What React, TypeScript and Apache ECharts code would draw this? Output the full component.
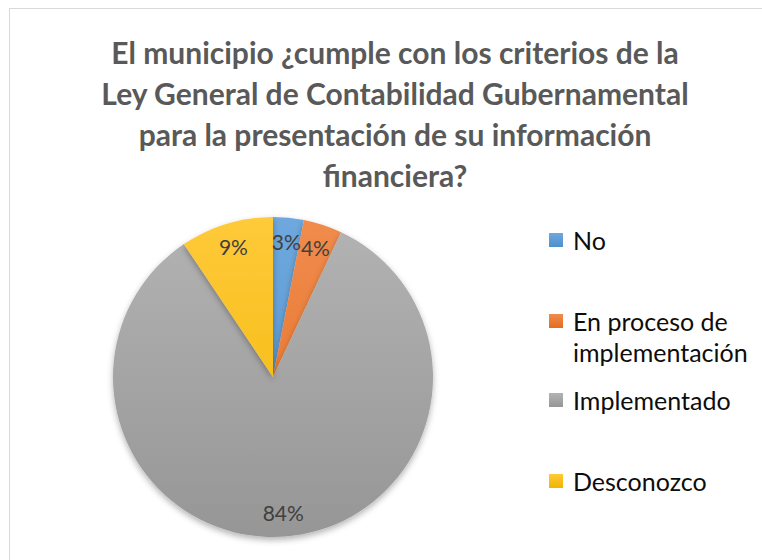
import React, { useEffect, useRef } from "react";
import * as echarts from "echarts";

const titleLines = [
  "El municipio ¿cumple con los criterios de la",
  "Ley General de Contabilidad Gubernamental",
  "para la presentación de su información",
  "financiera?",
];
const categories = ["No", "En proceso de implementación", "Implementado", "Desconozco"];
const legendLabels = ["No", "En proceso de\nimplementación", "Implementado", "Desconozco"];
const values = [3.1, 3.9, 83.6, 9.4];
const colorsTop = ["#6EA8DE", "#F08C4E", "#B3B3B3", "#FFCA3A"];
const colorsBottom = ["#4F8FCB", "#E46C1E", "#969696", "#F0B400"];

const CX = 273;
const CY = 377;
const R = 160;

function grad(i: number, y0: number, y1: number) {
  return new echarts.graphic.LinearGradient(
    0, y0, 0, y1,
    [
      { offset: 0, color: colorsTop[i] },
      { offset: 1, color: colorsBottom[i] },
    ],
    true
  );
}

export default function App() {
  const ref = useRef<HTMLDivElement>(null);
  useEffect(() => {
    if (!ref.current) return;
    const chart = echarts.init(ref.current, null, { renderer: "svg" });
    const data = categories.map((name, i) => ({
      name,
      value: values[i],
      itemStyle: { color: grad(i, CY - R, CY + R) },
    }));
    const labelData = categories.map((name, i) => ({ name, value: values[i] }));

    const legendY = [240, 321, 400, 481];
    const legendGraphics: any[] = [];
    legendLabels.forEach((txt, i) => {
      const y = legendY[i];
      legendGraphics.push({
        type: "rect",
        shape: { x: 549, y: y - 7, width: 14, height: 14 },
        style: { fill: grad(i, y - 7, y + 7) },
        silent: true,
      });
      legendGraphics.push({
        type: "text",
        style: {
          text: txt,
          x: 573,
          y: y - 15.5,
          verticalAlign: "top",
          align: "left",
          font: '25px Lato',
          lineHeight: 31,
          fill: "#0D0D0D",
        },
        silent: true,
      });
    });

    chart.setOption({
      animation: false,
      backgroundColor: "#ffffff",
      title: {
        text: titleLines.join("\n"),
        left: 390,
        top: 26,
        textAlign: "center",
        textStyle: {
          fontFamily: "Lato",
          fontWeight: "bold",
          fontSize: 30,
          lineHeight: 41,
          color: "#595959",
        },
      },
      graphic: [
        {
          type: "rect",
          shape: { x: 9.5, y: 8.5, width: 800, height: 600 },
          style: { fill: "none", stroke: "#D9D9D9", lineWidth: 1 },
          silent: true,
          z: -10,
        },
        ...legendGraphics,
      ],
      series: [
        {
          type: "pie",
          center: [CX, CY],
          radius: [0, R],
          startAngle: 90,
          clockwise: true,
          data,
          label: { show: false },
          labelLine: { show: false },
          itemStyle: {
            borderWidth: 0,
            shadowBlur: 6,
            shadowOffsetY: 3,
            shadowColor: "rgba(0,0,0,0.3)",
          },
          emphasis: { disabled: true },
          silent: true,
        },
        {
          type: "pie",
          center: [CX, CY],
          radius: [120, 146],
          startAngle: 90,
          clockwise: true,
          data: labelData,
          itemStyle: { color: "rgba(0,0,0,0)" },
          label: {
            show: true,
            position: "inside",
            formatter: (p: any) => Math.round(p.percent) + "%",
            fontFamily: "Lato",
            fontSize: 21,
            color: "#404040",
          },
          labelLine: { show: false },
          emphasis: { disabled: true },
          silent: true,
          z: 5,
        },
      ],
    });
    return () => chart.dispose();
  }, []);
  return (
    <div
      ref={ref}
      style={{ position: "absolute", left: 0, top: 0, width: 762, height: 560 }}
    />
  );
}
